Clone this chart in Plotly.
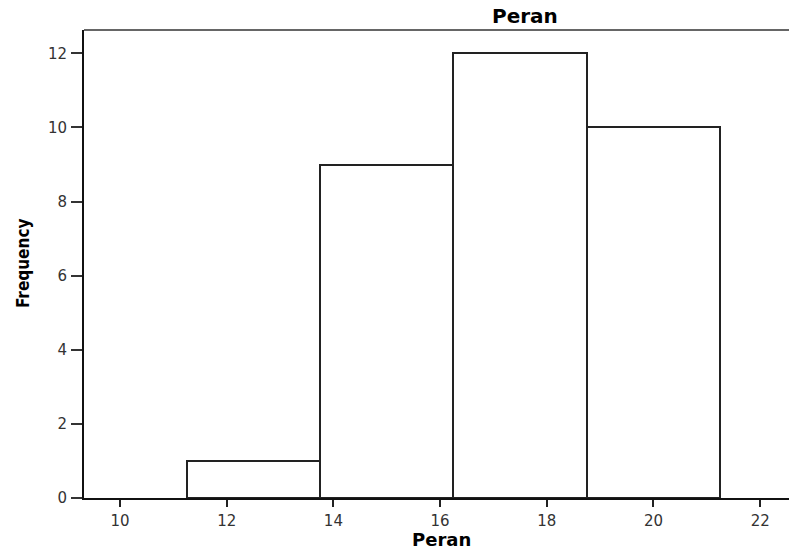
import plotly.graph_objects as go

# Data
bin_starts = [11.25, 13.75, 16.25, 18.75]
bin_width = 2.5
counts = [1, 9, 12, 10]
x_ticks = [10, 12, 14, 16, 18, 20, 22]
y_ticks = [0, 2, 4, 6, 8, 10, 12]

centers = [s + bin_width / 2 for s in bin_starts]

# body margin is removed below, so figure pixels equal page pixels
W, H = 789, 551
L, T, B, R = 84, 30, 53, 0
pw, ph = W - L - R, H - T - B


def px(x):
    return (x - L) / pw


def py(y):
    return (H - B - y) / ph


fig = go.Figure()
fig.add_trace(go.Bar(
    x=centers, y=counts, width=[bin_width] * len(counts),
    marker=dict(color="white", line=dict(color="#222", width=2)),
    showlegend=False, hoverinfo="x+y",
))

fig.update_layout(
    width=W, height=H,
    margin=dict(l=L, r=R, t=T, b=B, pad=0),
    paper_bgcolor="white", plot_bgcolor="white",
    bargap=0,
    font=dict(family="DejaVu Sans, sans-serif", size=15, color="#333"),
    xaxis=dict(range=[9.325, 22.54], tickvals=x_ticks, showgrid=False, zeroline=False,
               showline=True, linecolor="#111", linewidth=2,
               ticks="outside", ticklen=7, tickwidth=2, tickcolor="#222",
               ticklabelstandoff=1),
    yaxis=dict(range=[0, 12.63], tickvals=y_ticks, showgrid=False, zeroline=False,
               showline=True, linecolor="#111", linewidth=2,
               ticks="outside", ticklen=11, tickwidth=1.5, tickcolor="#333",
               ticklabelstandoff=1),
    shapes=[dict(type="line", xref="paper", yref="paper", x0=0, x1=1, y0=1, y1=1,
                 line=dict(color="#666", width=2))],
    annotations=[
        dict(text="<b>Peran</b>", x=px(525), y=py(16), xref="paper", yref="paper",
             showarrow=False, xanchor="center", yanchor="middle", borderpad=0,
             font=dict(size=20, color="#000", family="DejaVu Sans, sans-serif")),
        dict(text="<b>Peran</b>", x=px(442), y=py(539), xref="paper", yref="paper",
             showarrow=False, xanchor="center", yanchor="middle", borderpad=0,
             font=dict(size=18, color="#000", family="DejaVu Sans, sans-serif")),
        dict(text="<b>Frequency</b>", x=px(23), y=py(264), xref="paper", yref="paper",
             showarrow=False, xanchor="center", yanchor="middle", textangle=-90,
             font=dict(size=17, color="#000",
                       family="DejaVu Sans Condensed, Liberation Sans Narrow, sans-serif")),
    ],
)

fig.write_html("out.html", config={"displayModeBar": False},
               post_script="document.body.style.margin='0px';document.body.style.overflow='hidden';")
